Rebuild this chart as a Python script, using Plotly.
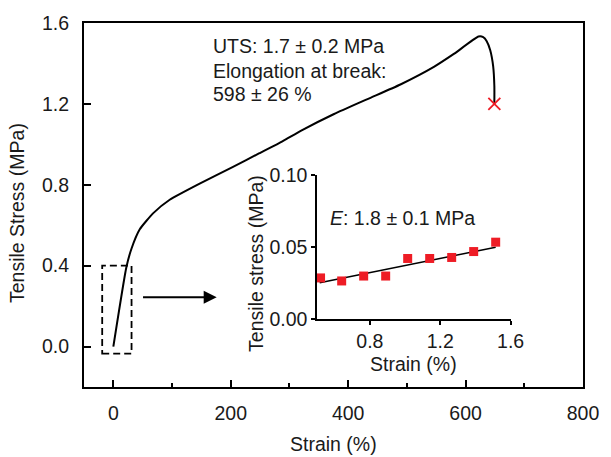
import plotly.graph_objects as go

# ---- main stress-strain curve ----
strain = [0, 22, 31, 45, 68, 96, 147, 203, 248, 288, 320, 376, 433, 489, 546, 580, 622, 630, 636, 642, 647, 649, 649]
stress = [0, 0.39, 0.485, 0.58, 0.66, 0.726, 0.806, 0.887, 0.955, 1.015, 1.068, 1.15, 1.224, 1.296, 1.383, 1.447, 1.533, 1.53, 1.51, 1.465, 1.385, 1.288, 1.2]
break_x = [649]
break_y = [1.2]

# ---- inset: small-strain data and linear fit ----
inset_strain = [0.52, 0.64, 0.765, 0.89, 1.015, 1.14, 1.265, 1.39, 1.515]
inset_stress = [0.0287, 0.0266, 0.030, 0.030, 0.0422, 0.0422, 0.0429, 0.047, 0.0535]
fit_strain = [0.515, 1.515]
fit_stress = [0.0253, 0.050]

# ---- decorations ----
zoom_box_x = [-19, 31]
zoom_box_y = [-0.035, 0.4]
arrow_x = [48, 176]
arrow_y = [0.244, 0.244]

main_xtick_step = 200
main_ytick_step = 0.4
inset_xtick_step = 0.4
inset_ytick_step = 0.05

FONT = "Liberation Sans, Arial, sans-serif"
RED = "#ee1c25"
FS = 19.5

fig = go.Figure()
fig.add_trace(go.Scatter(x=strain, y=stress, mode="lines",
                         line=dict(color="black", width=2, shape="spline", smoothing=0.5),
                         showlegend=False, hoverinfo="skip"))
fig.add_trace(go.Scatter(x=break_x, y=break_y, mode="markers",
                         marker=dict(symbol="x-thin-open", size=12, color=RED,
                                     line=dict(color=RED, width=1.8)),
                         showlegend=False))
fig.add_trace(go.Scatter(x=fit_strain, y=fit_stress, mode="lines",
                         line=dict(color="black", width=1.5),
                         xaxis="x2", yaxis="y2", showlegend=False))
fig.add_trace(go.Scatter(x=inset_strain, y=inset_stress, mode="markers",
                         marker=dict(symbol="square", size=9, color=RED),
                         xaxis="x2", yaxis="y2", showlegend=False, cliponaxis=False))

# zoom box
fig.add_shape(type="rect", xref="x", yref="y",
              x0=zoom_box_x[0], x1=zoom_box_x[1], y0=zoom_box_y[0], y1=zoom_box_y[1],
              line=dict(color="black", width=1.8, dash="7px,4px"))

# arrow
fig.add_annotation(x=arrow_x[1], y=arrow_y[1], ax=arrow_x[0], ay=arrow_y[0],
                   xref="x", yref="y", axref="x", ayref="y",
                   showarrow=True, arrowhead=2, arrowsize=1.3, arrowwidth=2,
                   arrowcolor="black", text="")

# text annotations
txt = dict(family=FONT, size=FS, color="#1a1a1a")
for ty, t in [(1.484, "UTS: 1.7 ± 0.2 MPa"), (1.362, "Elongation at break:"), (1.248, "598 ± 26 %")]:
    fig.add_annotation(x=167, y=ty, xref="x", yref="y", text=t, showarrow=False,
                       xanchor="left", yanchor="middle", font=txt)

fig.add_annotation(x=0.489, y=0.4636, xref="paper", yref="paper",
                   text="<i>E</i>: 1.8 ± 0.1 MPa", showarrow=False,
                   xanchor="left", yanchor="middle", font=txt)

# axis titles
fig.add_annotation(x=0.501, y=-0.156, xref="paper", yref="paper", text="Strain (%)",
                   showarrow=False, xanchor="center", yanchor="middle", font=txt)
fig.add_annotation(x=-0.133, y=0.477, xref="paper", yref="paper", text="Tensile Stress (MPa)",
                   showarrow=False, textangle=-90, xanchor="center", yanchor="middle", font=txt)
fig.add_annotation(x=0.346, y=0.340, xref="paper", yref="paper", text="Tensile stress (MPa)",
                   showarrow=False, textangle=-90, xanchor="center", yanchor="middle", font=txt)
fig.add_annotation(x=0.661, y=0.062, xref="paper", yref="paper", text="Strain (%)",
                   showarrow=False, xanchor="center", yanchor="middle", font=txt)

fig.update_layout(
    width=611, height=457,
    margin=dict(l=84, r=24, t=16, b=70),
    paper_bgcolor="white", plot_bgcolor="white",
    font=dict(family=FONT, size=FS, color="#1a1a1a"),
    showlegend=False,
    xaxis=dict(range=[-50, 800], tickmode="linear", tick0=0, dtick=main_xtick_step,
               ticks="inside", ticklen=7, tickwidth=2,
               tickcolor="black", showline=True, linewidth=2, linecolor="black", mirror=True,
               showgrid=False, zeroline=False, ticklabelstandoff=8,
               minor=dict(tickmode="linear", tick0=0, dtick=main_xtick_step / 2, ticks="inside",
                          ticklen=4, tickwidth=2, tickcolor="black", showgrid=False)),
    yaxis=dict(range=[-0.2, 1.6], tickmode="linear", tick0=0, dtick=main_ytick_step,
               tickformat=".1f", ticks="inside",
               ticklen=7, tickwidth=2, tickcolor="black", showline=True, linewidth=2,
               linecolor="black", mirror=True, showgrid=False, zeroline=False,
               ticklabelstandoff=9),
    xaxis2=dict(domain=[0.467, 0.855], anchor="y2", range=[0.5, 1.6], tickmode="linear",
                tick0=0, dtick=inset_xtick_step,
                tickformat=".1f", ticks="outside", ticklen=4, tickwidth=1.5, tickcolor="black",
                showline=True, linewidth=1.5, linecolor="black", showgrid=False, zeroline=False),
    yaxis2=dict(domain=[0.186, 0.582], anchor="x2", range=[0, 0.1], tickmode="linear",
                tick0=0, dtick=inset_ytick_step,
                tickformat=".2f", ticks="outside", ticklen=4, tickwidth=1.5, tickcolor="black",
                showline=True, linewidth=1.5, linecolor="black", showgrid=False, zeroline=False),
)

fig.write_html("out.html", config={"displayModeBar": False},
               post_script="document.body.style.margin='0';")
